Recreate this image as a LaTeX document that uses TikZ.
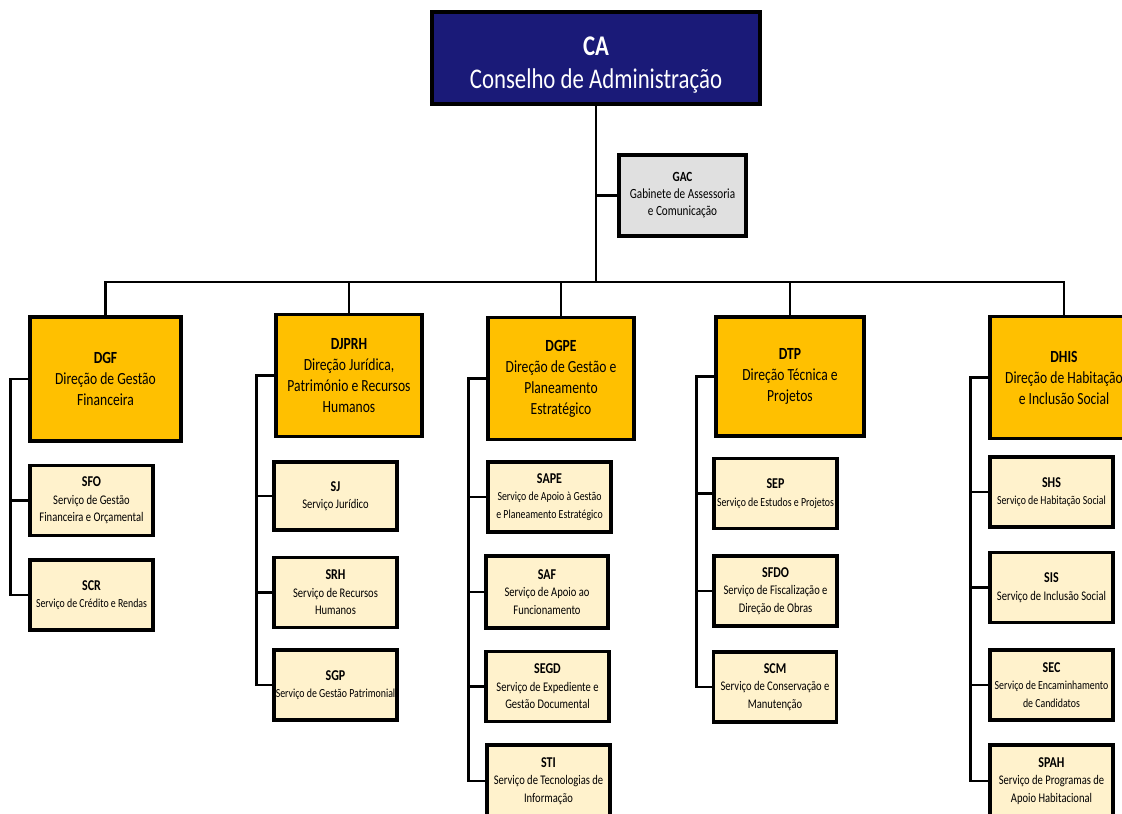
\documentclass[tikz,border=0pt]{standalone}
\usepackage{fontspec}
\setmainfont[FakeStretch=0.8]{Carlito}
\usepackage{xcolor}
\usepackage{tikz}

\definecolor{caBlue}{RGB}{26,26,120}
\definecolor{dirGold}{RGB}{255,192,0}
\definecolor{srvCream}{RGB}{255,242,204}
\definecolor{gacGray}{RGB}{224,224,224}

\tikzset{
  box/.style={draw=black, line width=3.2pt, align=center, inner sep=1pt},
  cabox/.style={box, fill=caBlue, text=white, minimum width=328pt, minimum height=92pt,
    font=\fontsize{28.5}{33}\selectfont},
  gacbox/.style={box, fill=gacGray, minimum width=127pt, minimum height=81pt,
    font=\fontsize{14}{17}\selectfont},
  dirbox/.style={box, fill=dirGold, minimum width=148pt, minimum height=122pt,
    font=\fontsize{17}{21}\selectfont},
  srvbox/.style={box, fill=srvCream, minimum width=123pt, minimum height=70pt,
    font=\fontsize{13.2}{17.5}\selectfont},
  srvtight/.style={srvbox, inner xsep=0pt, font=\fontsize{12.3}{17.5}\selectfont},
  link/.style={line width=2.2pt, black},
}
\newcommand{\ttl}[1]{{\fontsize{15}{17.5}\selectfont\bfseries #1}}

\begin{document}
\begin{tikzpicture}[x=1pt, y=-1pt]
\useasboundingbox (0,0) rectangle (1122,814);
\clip (0,0) rectangle (1122,814);

\node[cabox] (ca) at (596,58) {\rule{0pt}{32pt}\textbf{CA}\\Conselho de Administração};
\node[gacbox] (gac) at (682.5,195.5) {\textbf{GAC}\\Gabinete de Assessoria\\e Comunicação};

\node[dirbox, minimum width=151pt, minimum height=124pt] (dgf) at (105.5,379) {\textbf{DGF}\\Direção de Gestão\\Financeira};
\node[dirbox, minimum width=146pt] (djprh) at (349,375.5) {\textbf{DJPRH}\\Direção Jurídica,\\Património e Recursos\\Humanos};
\node[dirbox, minimum width=146pt] (dgpe) at (561,378.5) {\textbf{DGPE}\\Direção de Gestão e\\Planeamento\\Estratégico};
\node[dirbox, minimum height=119pt] (dtp) at (790,376.5) {\textbf{DTP}\\Direção Técnica e\\Projetos};
\node[dirbox] (dhis) at (1064,377.5) {\textbf{DHIS}\\Direção de Habitação\\e Inclusão Social};

\node[srvbox] (sfo) at (91.5,500.5) {\ttl{SFO}\\Serviço de Gestão\\Financeira e Orçamental};
\node[srvtight] (scr) at (91.5,595) {\ttl{SCR}\\Serviço de Crédito e Rendas};

\node[srvbox, minimum height=68pt] (sj) at (335.5,496) {\ttl{SJ}\\Serviço Jurídico};
\node[srvbox] (srh) at (335.5,592.5) {\ttl{SRH}\\Serviço de Recursos\\Humanos};
\node[srvtight] (sgp) at (335.5,685) {\ttl{SGP}\\Serviço de Gestão Patrimonial};

\node[srvtight] (sape) at (549.5,497) {\ttl{SAPE}\\Serviço de Apoio à Gestão\\e Planeamento Estratégico};
\node[srvbox, minimum width=122pt, minimum height=72pt] (saf) at (547,592) {\ttl{SAF}\\Serviço de Apoio ao\\Funcionamento};
\node[srvbox] (segd) at (547.5,686.5) {\ttl{SEGD}\\Serviço de Expediente e\\Gestão Documental};
\node[srvbox, minimum height=72pt] (sti) at (548.5,781) {\ttl{STI}\\Serviço de Tecnologias de\\Informação};

\node[srvtight] (sep) at (775.5,493.5) {\ttl{SEP}\\Serviço de Estudos e Projetos};
\node[srvbox] (sfdo) at (775.5,591) {\ttl{SFDO}\\Serviço de Fiscalização e\\Direção de Obras};
\node[srvbox] (scm) at (775,687) {\ttl{SCM}\\Serviço de Conservação e\\Manutenção};

\node[srvtight] (shs) at (1051.5,492) {\ttl{SHS}\\Serviço de Habitação Social};
\node[srvbox] (sis) at (1051.5,587.5) {\ttl{SIS}\\Serviço de Inclusão Social};
\node[srvtight] (sec) at (1051.5,685) {\ttl{SEC}\\Serviço de Encaminhamento\\de Candidatos};
\node[srvbox, minimum height=72pt] (spah) at (1051.5,781) {\ttl{SPAH}\\Serviço de Programas de\\Apoio Habitacional};

\coordinate (bus) at (596,282);
\draw[link] (ca.south) -- (bus);
\draw[link] (gac.west) -- (gac.west -| ca.south);
\draw[link] (dgf.north) |- (bus) -| (dhis.north);
\foreach \d in {djprh,dgpe,dtp}
  \draw[link] (\d.north) -- (\d.north |- bus);

\foreach \d/\s in {dgf/sfo, dgf/scr, djprh/sj, djprh/srh, djprh/sgp,
    dgpe/sape, dgpe/saf, dgpe/segd, dgpe/sti, dtp/sep, dtp/sfdo, dtp/scm,
    dhis/shs, dhis/sis, dhis/sec, dhis/spah}
  \draw[link] (\d.west) -- ++(-18,0) |- (\s.west);
\end{tikzpicture}
\end{document}
